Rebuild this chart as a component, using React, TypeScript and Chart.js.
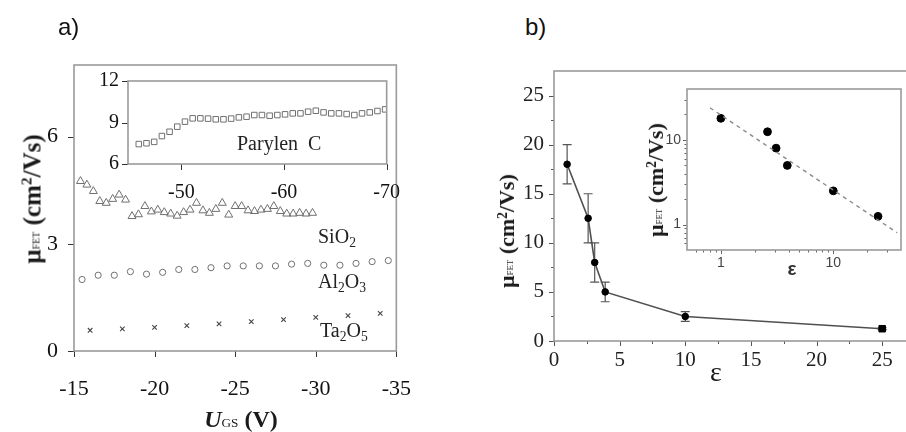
import React, { useEffect, useRef } from 'react';
import { Chart, registerables } from 'chart.js';
Chart.register(...registerables);

// ---------------- Panel a (main): mobility vs gate voltage ----------------
const sio2Ugs = [-15.4, -15.8, -16.2, -16.6, -17.0, -17.4, -17.8, -18.2, -18.6, -19.0, -19.4, -19.8, -20.2, -20.6, -21.0, -21.4, -21.8, -22.2, -22.6, -23.0, -23.4, -23.8, -24.2, -24.6, -25.0, -25.4, -25.8, -26.2, -26.6, -27.0, -27.4, -27.8, -28.2, -28.6, -29.0, -29.4, -29.8];
const sio2Mu = [4.75, 4.65, 4.47, 4.19, 4.14, 4.25, 4.37, 4.23, 3.77, 3.82, 4.05, 3.9, 3.95, 3.88, 3.84, 3.78, 3.88, 3.95, 4.14, 3.93, 3.86, 3.97, 4.14, 3.81, 4.05, 4.05, 3.93, 3.91, 3.95, 3.97, 4.05, 3.91, 3.84, 3.84, 3.86, 3.84, 3.86];
const al2o3Ugs = [-15.5, -16.5, -17.5, -18.5, -19.5, -20.5, -21.5, -22.5, -23.5, -24.5, -25.5, -26.5, -27.5, -28.5, -29.5, -30.5, -31.5, -32.5, -33.5, -34.5];
const al2o3Mu = [2.0, 2.12, 2.12, 2.22, 2.15, 2.2, 2.28, 2.28, 2.33, 2.38, 2.38, 2.38, 2.38, 2.43, 2.45, 2.4, 2.4, 2.45, 2.5, 2.53];
const ta2o5Ugs = [-16, -18, -20, -22, -24, -26, -28, -30, -32, -34];
const ta2o5Mu = [0.58, 0.62, 0.66, 0.71, 0.76, 0.82, 0.88, 0.94, 0.99, 1.05];
const aXTicks = [-15, -20, -25, -30, -35];
const aYTicks = [0, 3, 6];

// ---------------- Panel a (inset): Parylen C ----------------
const paryUgs = [-45.85, -46.6, -47.35, -48.1, -48.85, -49.6, -50.35, -51.1, -51.85, -52.6, -53.35, -54.1, -54.85, -55.6, -56.35, -57.1, -57.85, -58.6, -59.35, -60.1, -60.85, -61.6, -62.35, -63.1, -63.85, -64.6, -65.35, -66.1, -66.85, -67.6, -68.35, -69.1, -69.85];
const paryMu = [7.44, 7.5, 7.6, 8.02, 8.33, 8.7, 9.06, 9.3, 9.3, 9.28, 9.23, 9.23, 9.28, 9.37, 9.42, 9.54, 9.54, 9.49, 9.54, 9.59, 9.66, 9.66, 9.78, 9.85, 9.73, 9.66, 9.66, 9.61, 9.54, 9.66, 9.73, 9.83, 9.95];
const aInsetXTicks = [-50, -60, -70];
const aInsetYTicks = [6, 9, 12];

// ---------------- Panel b (main): mobility vs permittivity ----------------
const epsilon = [1, 2.6, 3.1, 3.9, 10, 25];
const muFet = [18, 12.5, 8, 5, 2.5, 1.25];
const muLow = [16, 10, 6, 4, 2, 1.15];
const muHigh = [20, 15, 10, 6, 3, 1.35];
const bXTicks = [0, 5, 10, 15, 20, 25];
const bXMinor = [2.5, 7.5, 12.5, 17.5, 22.5];
const bYTicks = [0, 5, 10, 15, 20, 25];
const bYMinor = [2.5, 7.5, 12.5, 17.5, 22.5];

// ---------------- Panel b (inset): log-log with fit ----------------
const fitEps = [0.8, 37];
const fitMu = [24, 0.8];
const bInsetTicks = [1, 10];
const bInsetMinor = [0.6, 0.7, 0.8, 0.9, 2, 3, 4, 5, 6, 7, 8, 9, 20, 30];

const SERIF = 'Liberation Serif';
const SANS = 'Liberation Sans';
const PAD = 30;
const YW = 60;
const XH = 60;

Chart.defaults.font.family = SERIF;

type Area = { l: number; t: number; r: number; b: number };
type Frame = {
  xMajor: number[]; xMinor?: number[]; yMajor: number[]; yMinor?: number[];
  majorLen: number; minorLen?: number; tickColor: string; boxColor: string; boxWidth: number;
  err?: { x: number[]; lo: number[]; hi: number[]; color: string; cap: number };
};

function framePlugin(f: Frame) {
  return {
    id: 'frame',
    beforeDatasetsDraw(chart: any) {
      const e = f.err;
      if (!e) return;
      const { ctx, scales } = chart;
      const x = scales.x, y = scales.y;
      ctx.save();
      ctx.strokeStyle = e.color;
      ctx.lineWidth = 1.2;
      e.x.forEach((v, i) => {
        const px = x.getPixelForValue(v);
        const p1 = y.getPixelForValue(e.lo[i]);
        const p2 = y.getPixelForValue(e.hi[i]);
        ctx.beginPath();
        ctx.moveTo(px, p1); ctx.lineTo(px, p2);
        ctx.moveTo(px - e.cap, p1); ctx.lineTo(px + e.cap, p1);
        ctx.moveTo(px - e.cap, p2); ctx.lineTo(px + e.cap, p2);
        ctx.stroke();
      });
      ctx.restore();
    },
    afterDraw(chart: any) {
      const { ctx, chartArea: a, scales } = chart;
      const x = scales.x, y = scales.y;
      ctx.save();
      ctx.lineWidth = 1;
      ctx.strokeStyle = f.tickColor;
      const tx = (vals: number[], len: number) => {
        for (const v of vals) {
          const p = Math.round(x.getPixelForValue(v)) + 0.5;
          ctx.beginPath(); ctx.moveTo(p, a.bottom); ctx.lineTo(p, a.bottom + len); ctx.stroke();
        }
      };
      const ty = (vals: number[], len: number) => {
        for (const v of vals) {
          const p = Math.round(y.getPixelForValue(v)) + 0.5;
          ctx.beginPath(); ctx.moveTo(a.left, p); ctx.lineTo(a.left - len, p); ctx.stroke();
        }
      };
      tx(f.xMajor, f.majorLen);
      ty(f.yMajor, f.majorLen);
      if (f.xMinor) tx(f.xMinor, f.minorLen || 3);
      if (f.yMinor) ty(f.yMinor, f.minorLen || 3);
      ctx.strokeStyle = f.boxColor;
      ctx.lineWidth = f.boxWidth;
      ctx.strokeRect(a.left, a.top, a.right - a.left, a.bottom - a.top);
      ctx.restore();
    },
  };
}

function axis(o: {
  type?: string; min: number; max: number; reverse?: boolean; ticks: number[];
  family: string; size: number; color: string; pad: number; horizontal: boolean;
}) {
  return {
    type: o.type || 'linear',
    min: o.min,
    max: o.max,
    reverse: !!o.reverse,
    bounds: 'data',
    grid: { display: false, drawTicks: false },
    border: { display: false },
    ticks: {
      font: { family: o.family, size: o.size },
      color: o.color,
      padding: o.pad,
      autoSkip: false,
      maxRotation: 0,
      minRotation: 0,
      callback: (v: any) => String(v),
    },
    afterBuildTicks: (s: any) => { s.ticks = o.ticks.map((v) => ({ value: v })); },
    afterFit: (s: any) => { if (o.horizontal) s.height = XH; else s.width = YW; },
  };
}

function baseOptions(scales: any) {
  return {
    responsive: false,
    animation: false,
    events: [],
    layout: { padding: PAD },
    plugins: { legend: { display: false }, tooltip: { enabled: false } },
    scales,
  };
}

const pts = (xs: number[], ys: number[]) => xs.map((x, i) => ({ x, y: ys[i] }));

function ChartBox({ area, build }: { area: Area; build: () => any }) {
  const ref = useRef<HTMLCanvasElement>(null);
  const w = PAD * 2 + YW + (area.r - area.l);
  const h = PAD * 2 + XH + (area.b - area.t);
  useEffect(() => {
    const chart = new Chart(ref.current as HTMLCanvasElement, build());
    return () => chart.destroy();
  }, []);
  return (
    <canvas
      ref={ref}
      width={w}
      height={h}
      style={{ position: 'absolute', left: area.l - PAD - YW, top: area.t - PAD, width: w, height: h }}
    />
  );
}

const GRAY = '#707070';
const INK = '#111';

const buildMainA = () => ({
  type: 'scatter',
  data: {
    datasets: [
      { data: pts(sio2Ugs, sio2Mu), pointStyle: 'triangle', pointRadius: 4.6, borderColor: GRAY, backgroundColor: 'rgba(0,0,0,0)', borderWidth: 1, showLine: false },
      { data: pts(al2o3Ugs, al2o3Mu), pointStyle: 'circle', pointRadius: 3.1, borderColor: GRAY, backgroundColor: 'rgba(0,0,0,0)', borderWidth: 1, showLine: false },
      { data: pts(ta2o5Ugs, ta2o5Mu), pointStyle: 'crossRot', pointRadius: 3.2, borderColor: '#444', backgroundColor: 'rgba(0,0,0,0)', borderWidth: 1.1, showLine: false },
    ],
  },
  options: baseOptions({
    x: axis({ min: -35, max: -15, reverse: true, ticks: aXTicks, family: SERIF, size: 22, color: INK, pad: 25, horizontal: true }),
    y: axis({ min: 0, max: 8, ticks: aYTicks, family: SERIF, size: 22, color: INK, pad: 16, horizontal: false }),
  }),
  plugins: [framePlugin({ xMajor: aXTicks, yMajor: aYTicks, majorLen: 6, tickColor: '#333', boxColor: '#9a9a9a', boxWidth: 1.6 })],
});

const buildInsetA = () => ({
  type: 'scatter',
  data: {
    datasets: [
      { data: pts(paryUgs, paryMu), pointStyle: 'rect', pointRadius: 3.9, borderColor: GRAY, backgroundColor: 'rgba(0,0,0,0)', borderWidth: 1, showLine: false },
    ],
  },
  options: baseOptions({
    x: axis({ min: -70, max: -44.8, reverse: true, ticks: aInsetXTicks, family: SERIF, size: 20, color: INK, pad: 17, horizontal: true }),
    y: axis({ min: 6, max: 12, ticks: aInsetYTicks, family: SERIF, size: 20, color: INK, pad: 9, horizontal: false }),
  }),
  plugins: [framePlugin({ xMajor: aInsetXTicks, yMajor: aInsetYTicks, majorLen: 6, tickColor: '#333', boxColor: '#9a9a9a', boxWidth: 1.6 })],
});

const buildMainB = () => ({
  type: 'scatter',
  data: {
    datasets: [
      {
        data: pts(epsilon, muFet),
        showLine: true,
        borderColor: '#505050',
        borderWidth: 1.6,
        pointStyle: ['circle', 'circle', 'circle', 'circle', 'circle', 'rect'],
        pointRadius: [3.3, 3.3, 3.3, 3.3, 3.3, 4.6],
        pointBackgroundColor: '#000',
        pointBorderColor: '#000',
        pointBorderWidth: 1,
      },
    ],
  },
  options: baseOptions({
    x: axis({ min: 0, max: 27.5, ticks: bXTicks, family: SERIF, size: 21, color: '#222', pad: 7, horizontal: true }),
    y: axis({ min: 0, max: 27.5, ticks: bYTicks, family: SERIF, size: 21, color: '#222', pad: 10, horizontal: false }),
  }),
  plugins: [framePlugin({
    xMajor: bXTicks, xMinor: bXMinor, yMajor: bYTicks, yMinor: bYMinor, majorLen: 5, minorLen: 3,
    tickColor: '#555', boxColor: '#9a9a9a', boxWidth: 1.6,
    err: { x: epsilon, lo: muLow, hi: muHigh, color: '#555', cap: 4.5 },
  })],
});

const buildInsetB = () => ({
  type: 'scatter',
  data: {
    datasets: [
      { data: pts(fitEps, fitMu), showLine: true, borderColor: '#8a8a8a', borderWidth: 1.4, borderDash: [4, 4], pointRadius: 0 },
      { data: pts(epsilon, muFet), showLine: false, pointRadius: 3.9, pointBackgroundColor: '#000', pointBorderColor: '#000' },
    ],
  },
  options: baseOptions({
    x: axis({ type: 'logarithmic', min: 0.5, max: 40, ticks: bInsetTicks, family: SANS, size: 14, color: '#444', pad: 5, horizontal: true }),
    y: axis({ type: 'logarithmic', min: 0.5, max: 40, ticks: bInsetTicks, family: SANS, size: 14, color: '#444', pad: 6, horizontal: false }),
  }),
  plugins: [framePlugin({
    xMajor: bInsetTicks, xMinor: bInsetMinor, yMajor: bInsetTicks, yMinor: bInsetMinor, majorLen: 4, minorLen: 2.5,
    tickColor: '#666', boxColor: '#9a9a9a', boxWidth: 1.6,
  })],
});

const abs = (s: React.CSSProperties): React.CSSProperties => ({ position: 'absolute', whiteSpace: 'nowrap', lineHeight: 1, ...s });
const Sub = ({ c }: { c: string }) => <span style={{ fontSize: '0.68em', position: 'relative', top: '0.28em' }}>{c}</span>;

const MuLabel = () => (
  <>
    μ<span style={{ fontSize: '0.4em', fontWeight: 'normal', position: 'relative', top: '-0.1em' }}>FET</span> (cm
    <span style={{ fontSize: '0.62em', position: 'relative', top: '-0.55em' }}>2</span>/Vs)
  </>
);

const rotCenter = (cx: number, cy: number, size: number, extra: React.CSSProperties = {}): React.CSSProperties =>
  abs({ left: cx, top: cy, transform: 'translate(-50%,-50%) rotate(-90deg)', fontFamily: SERIF, fontWeight: 'bold', fontSize: size, color: '#1a1a1a', ...extra });

export default function App() {
  return (
    <div style={{ position: 'fixed', left: 0, top: 0, width: 906, height: 432, overflow: 'hidden', background: '#fff' }}>
      <ChartBox area={{ l: 74, t: 65, r: 406, b: 351 }} build={buildMainA} />
      <ChartBox area={{ l: 128, t: 81, r: 387, b: 164 }} build={buildInsetA} />
      <ChartBox area={{ l: 554, t: 71, r: 915, b: 341 }} build={buildMainB} />
      <ChartBox area={{ l: 687, t: 89, r: 901, b: 250 }} build={buildInsetB} />

      <div style={abs({ left: 58, top: 15, fontFamily: SANS, fontSize: 24, color: '#111' })}>a)</div>
      <div style={abs({ left: 525, top: 15, fontFamily: SANS, fontSize: 24, color: '#111' })}>b)</div>

      <div style={abs({ left: 237, top: 133, fontFamily: SERIF, fontSize: 20, color: '#222' })}>Parylen{'\u00a0\u00a0'}C</div>
      <div style={abs({ left: 318, top: 226, fontFamily: SERIF, fontSize: 20, color: '#222' })}>SiO<Sub c="2" /></div>
      <div style={abs({ left: 318, top: 271, fontFamily: SERIF, fontSize: 20, color: '#222' })}>Al<Sub c="2" />O<Sub c="3" /></div>
      <div style={abs({ left: 320, top: 320, fontFamily: SERIF, fontSize: 20, color: '#222' })}>Ta<Sub c="2" />O<Sub c="5" /></div>

      <div style={rotCenter(32, 199, 25)}><MuLabel /></div>
      <div style={abs({ left: 241, top: 407, transform: 'translateX(-50%)', fontFamily: SERIF, fontWeight: 'bold', fontSize: 24, color: '#1a1a1a' })}>
        <i>U</i><span style={{ fontSize: '0.55em', fontWeight: 'normal' }}>GS</span> (V)
      </div>

      <div style={rotCenter(507, 231, 22)}><MuLabel /></div>
      <div style={abs({ left: 716, top: 358, transform: 'translateX(-50%)', fontFamily: SERIF, fontSize: 28, color: '#1a1a1a' })}>ε</div>

      <div style={rotCenter(656, 180, 22)}><MuLabel /></div>
      <div style={abs({ left: 792, top: 259, transform: 'translateX(-50%)', fontFamily: SANS, fontWeight: 'bold', fontSize: 19, color: '#333' })}>ε</div>
    </div>
  );
}
